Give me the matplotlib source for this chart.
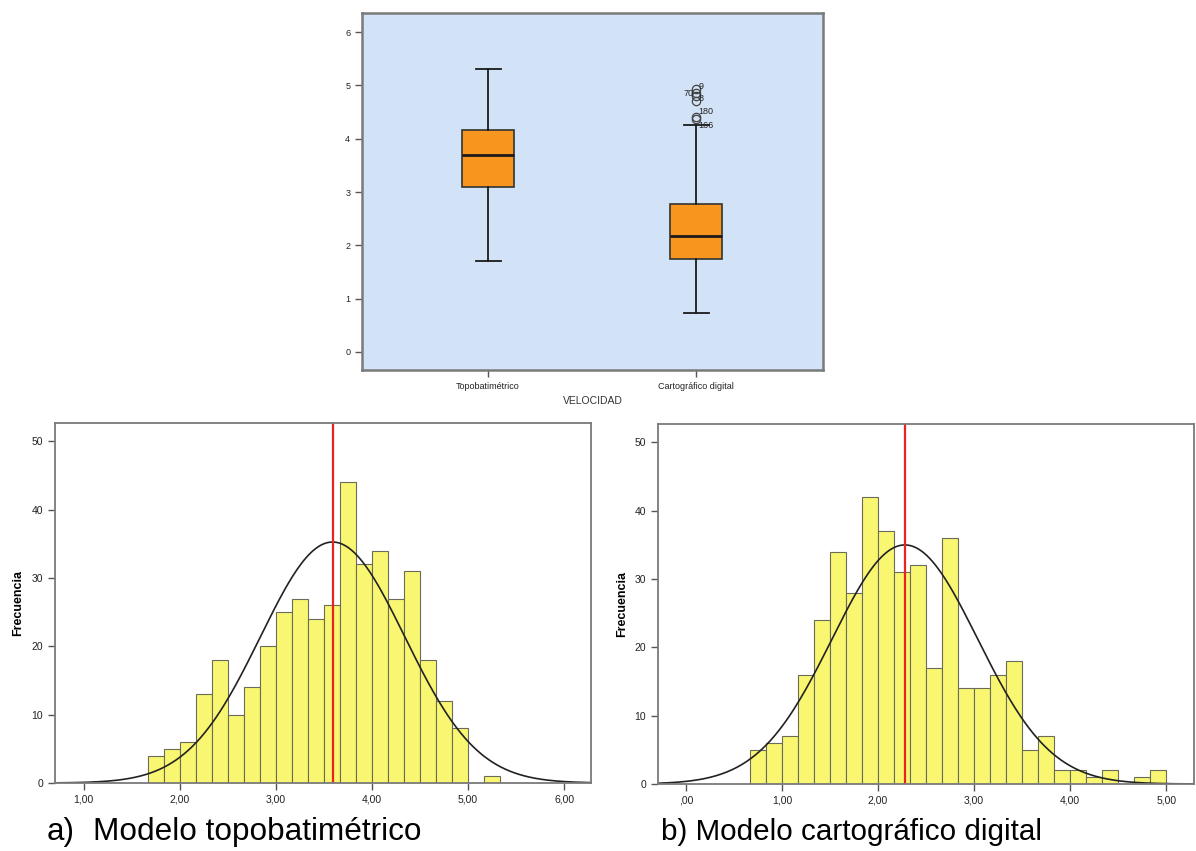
import numpy as np
import matplotlib
matplotlib.use("Agg")
import matplotlib.pyplot as plt

plt.rcParams['font.family'] = ['Liberation Sans', 'DejaVu Sans']

# --- box plot data (VELOCIDAD) ---
box_labels = ["Topobatimétrico", "Cartográfico digital"]
box_q1 = [3.10, 1.74]
box_med = [3.70, 2.17]
box_q3 = [4.17, 2.78]
box_lo = [1.70, 0.73]
box_hi = [5.30, 4.25]
fliers_cart = [4.94, 4.85, 4.80, 4.70, 4.41, 4.37]
flier_ids = ["9", "70", "8", "180", "166"]
flier_id_y = [4.98, 4.84, 4.76, 4.52, 4.24]
flier_id_side = ["right", "left", "right", "right", "right"]

# --- histogram a) topobatimetrico ---
topo_start = 5.0 - 20 / 6
topo_width = 1 / 6
topo_counts = [4, 5, 6, 13, 18, 10, 14, 20, 25, 27, 24, 26, 44, 32, 34,
               27, 31, 18, 12, 8, 0, 1]
topo_mean = 3.59
topo_sd = 0.752

# --- histogram b) cartografico digital ---
cart_start = 5.0 - 26 / 6
cart_width = 1 / 6
cart_counts = [5, 6, 7, 16, 24, 34, 28, 42, 37, 31, 32, 17, 36, 14, 14,
               16, 18, 5, 7, 2, 2, 1, 2, 0, 1, 2]
cart_mean = 2.28
cart_sd = 0.758

W, H = 1196, 851
fig = plt.figure(figsize=(W / 100, H / 100), dpi=100)


def px_axes(l, t, r, b):
    return fig.add_axes([l / W, 1 - b / H, (r - l) / W, (b - t) / H])


def style_frame(ax, lw=1.4):
    for s in ax.spines.values():
        s.set_color("#7a7a7a")
        s.set_linewidth(lw)
    ax.tick_params(axis="both", colors="#555555", length=5, width=1,
                   labelcolor="#222222")


# ---------- box plot ----------
ax = px_axes(362, 13, 823, 370)
ax.set_facecolor("#D2E3F7")
stats = []
for i in range(2):
    stats.append(dict(med=box_med[i], q1=box_q1[i], q3=box_q3[i],
                      whislo=box_lo[i], whishi=box_hi[i],
                      fliers=fliers_cart if i == 1 else []))
ax.bxp(stats, positions=[1, 2], widths=0.25, patch_artist=True,
       boxprops=dict(facecolor="#F7961E", edgecolor="#333333", linewidth=1.2),
       medianprops=dict(color="#1a1a1a", linewidth=2),
       whiskerprops=dict(color="#1a1a1a", linewidth=1.3),
       capprops=dict(color="#1a1a1a", linewidth=1.3),
       capwidths=0.12,
       flierprops=dict(marker="o", markersize=6, markerfacecolor="none",
                       markeredgecolor="#444444", markeredgewidth=0.9))
for lab, yy, side in zip(flier_ids, flier_id_y, flier_id_side):
    dx = 0.012 if side == "right" else -0.012
    ax.text(2 + dx, yy, lab, fontsize=6.5, color="#222222",
            ha="left" if side == "right" else "right", va="center")
ax.set_xlim(0.394, 2.61)
ax.set_ylim(-0.34, 6.36)
ax.set_yticks(range(0, 7))
ax.set_xticks([1, 2])
ax.set_xticklabels(box_labels)
ax.set_xlabel("VELOCIDAD", fontsize=7.5, color="#333333", labelpad=4)
style_frame(ax, 1.8)
ax.tick_params(labelsize=6.5)


# ---------- histograms ----------
def histogram(rect, start, width, counts, mean, sd, xlim, ticks, ticklabels):
    ax = px_axes(*rect)
    counts = np.array(counts)
    edges = start + width * np.arange(len(counts) + 1)
    ax.bar(edges[:-1], counts, width=width, align="edge",
           color="#F9F772", edgecolor="#6b6b5a", linewidth=0.8)
    n = counts.sum()
    xs = np.linspace(xlim[0], xlim[1], 400)
    ys = n * width / (sd * np.sqrt(2 * np.pi)) * np.exp(-0.5 * ((xs - mean) / sd) ** 2)
    ax.plot(xs, ys, color="#222222", linewidth=1.2)
    ax.axvline(mean, color="#EE2020", linewidth=1.6)
    ax.set_xlim(*xlim)
    ax.set_ylim(0, 52.7)
    ax.set_yticks(range(0, 51, 10))
    ax.set_xticks(ticks)
    ax.set_xticklabels(ticklabels)
    ax.set_ylabel("Frecuencia", fontsize=9, fontweight="bold", labelpad=5)
    style_frame(ax, 1.3)
    ax.tick_params(labelsize=7.5)
    return ax


histogram((55, 423, 591, 783), topo_start, topo_width, topo_counts,
          topo_mean, topo_sd, (0.70, 6.28),
          [1, 2, 3, 4, 5, 6], ["1,00", "2,00", "3,00", "4,00", "5,00", "6,00"])
histogram((658, 424, 1194, 784), cart_start, cart_width, cart_counts,
          cart_mean, cart_sd, (-0.29, 5.29),
          [0, 1, 2, 3, 4, 5], [",00", "1,00", "2,00", "3,00", "4,00", "5,00"])

cap_y = 1 - 832 / H
fig.text(47 / W, cap_y, "a)", fontsize=22.5, va="center", ha="left")
fig.text(93 / W, cap_y, "Modelo topobatimétrico", fontsize=22.7,
         va="center", ha="left")
fig.text(661 / W, cap_y, "b) Modelo cartográfico digital", fontsize=21.3,
         va="center", ha="left")

fig.savefig("out.png", dpi=100)
